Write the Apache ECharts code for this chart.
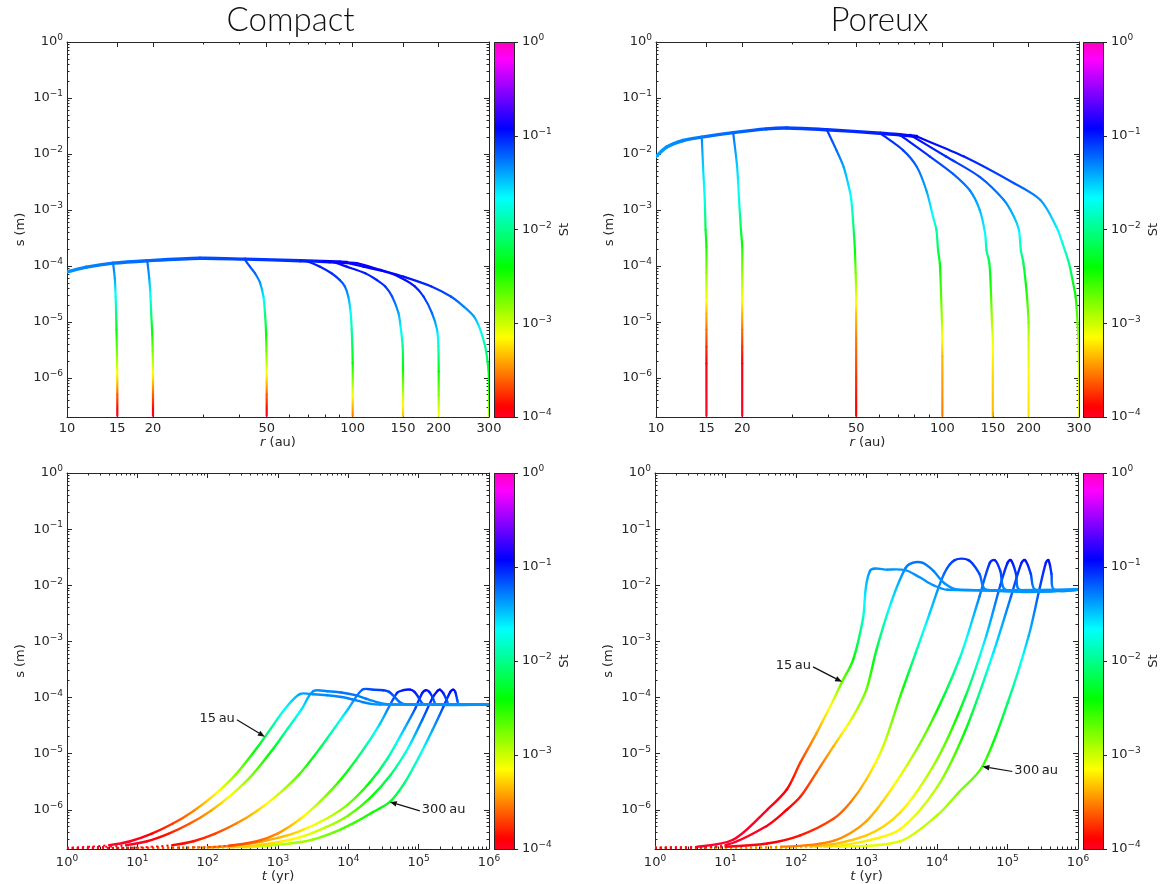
<!DOCTYPE html>
<html><head><meta charset="utf-8">
<script src="https://cdn.jsdelivr.net/npm/echarts@6/dist/echarts.min.js"></script>
<style>html,body{margin:0;padding:0;background:#fff}#c{width:1168px;height:884px}</style>
</head><body><div id="c"></div>
<script>
// ===================== DATA =====================
const R_TICKS = [10, 15, 20, 50, 100, 150, 200, 300];
const R_MINOR = [30, 40, 60, 70, 80, 90];
const S_DECADES = [-6, -5, -4, -3, -2, -1, 0];
const T_DECADES = [0, 1, 2, 3, 4, 5, 6];
const ST_DECADES = [-4, -3, -2, -1, 0];
const S_MIN = 2e-7, S_MAX = 1;

// Top-left (Compact): [r (au), s (m), St]
const compactEnvelope = [[10,7.8e-5,0.045],[11.7,9.5e-5,0.05],[14.5,1.12e-4,0.055],[19.1,1.24e-4,0.06],[29.2,1.37e-4,0.07],[42,1.32e-4,0.08],[65.5,1.24e-4,0.09],[83,1.19e-4,0.11],[95.6,1.15e-4,0.12]];
const cR15 = [[15,2.1e-7,1e-4],[15,5e-7,2.5e-4],[15,1e-6,6e-4],[14.95,3e-6,1.8e-3],[14.9,7.3e-6,4.5e-3],[14.85,1.5e-5,1e-2],[14.8,2.84e-5,0.02],[14.7,6e-5,0.04],[14.5,1.12e-4,0.055]];
const cR20 = [[20,2.1e-7,1e-4],[20,5e-7,2.5e-4],[20,1e-6,6e-4],[19.95,3e-6,1.8e-3],[19.85,7.3e-6,4.5e-3],[19.7,1.5e-5,1e-2],[19.6,2.84e-5,0.02],[19.4,6e-5,0.04],[19.1,1.24e-4,0.06]];
const cR50 = [[50,2.1e-7,1e-4],[50,5e-7,2.5e-4],[50,1e-6,6e-4],[49.9,3e-6,1.8e-3],[49.7,7.3e-6,5e-3],[49.3,1.44e-5,1e-2],[48.7,2.84e-5,0.025],[47.4,5e-5,0.045],[45.5,7.4e-5,0.06],[43.7,9.7e-5,0.07],[42,1.28e-4,0.08]];
const cR100 = [[100,2.1e-7,3e-4],[100,4.7e-7,7e-4],[100,1.85e-6,4e-3],[99.2,7.3e-6,1.2e-2],[98.4,1.44e-5,0.022],[96.5,2.84e-5,0.04],[93.9,4.3e-5,0.06],[90.1,5.6e-5,0.08],[84.3,7.4e-5,0.09],[76.9,9.7e-5,0.1],[69.9,1.19e-4,0.1],[65.5,1.24e-4,0.1]];
const cR150 = [[150,2.1e-7,5e-4],[150,4.7e-7,1e-3],[150,1.5e-6,4e-3],[149.6,3.7e-6,1e-2],[147.5,7.3e-6,0.022],[144.6,1.44e-5,0.04],[137.4,2.84e-5,0.07],[130,4.3e-5,0.085],[121.5,5.6e-5,0.095],[110.6,7.4e-5,0.1],[95.3,9.7e-5,0.11],[84.4,1.19e-4,0.12],[78.9,1.22e-4,0.12]];
const cR200 = [[200,2.1e-7,7e-4],[200,5e-7,1.6e-3],[200,1.3e-6,4e-3],[199.5,3.7e-6,1.5e-2],[197.3,7.3e-6,0.03],[189.4,1.44e-5,0.06],[177,2.84e-5,0.085],[165,4.3e-5,0.1],[152.6,5.6e-5,0.11],[135.6,7.4e-5,0.12],[108.8,9.7e-5,0.125],[90.3,1.19e-4,0.13],[85.5,1.2e-4,0.13]];
const cR300 = [[300,2.1e-7,1.2e-3],[300,9.3e-7,4e-3],[297,1.85e-6,6e-3],[290.6,3.7e-6,1.2e-2],[279.5,7.3e-6,0.022],[265.6,1.25e-5,0.04],[244.8,1.88e-5,0.05],[220.6,2.84e-5,0.07],[188.6,4.3e-5,0.09],[150.4,6.45e-5,0.11],[124.9,8.5e-5,0.12],[103.4,1.12e-4,0.13],[95.6,1.15e-4,0.13]];

// Top-right (Poreux): [r (au), s (m), St]
const porousEnvelope = [[10,9e-3,0.04],[10.9,1.33e-2,0.045],[12.45,1.74e-2,0.05],[14.45,2.0e-2,0.055],[18.6,2.4e-2,0.06],[24.3,2.8e-2,0.07],[28.6,2.9e-2,0.075],[39.5,2.7e-2,0.085],[60.6,2.35e-2,0.1],[71,2.2e-2,0.11],[81.4,2.05e-2,0.12]];
const pR15 = [[14.45,2.0e-2,0.05],[14.6,5.9e-3,0.03],[14.8,1.5e-3,0.018],[14.9,4.4e-4,6e-3],[15,2.2e-4,3.5e-3],[15,7.5e-5,1.5e-3],[15,2.8e-5,8e-4],[15,1.4e-5,4.5e-4],[15,7.3e-6,2.8e-4],[15,3.6e-6,1.8e-4],[15,1.8e-6,1.2e-4],[15,2.1e-7,1e-4]];
const pR20 = [[18.6,2.4e-2,0.06],[19.2,5.9e-3,0.03],[19.5,1.5e-3,0.018],[19.8,4.4e-4,6e-3],[20,2.2e-4,3.5e-3],[20,7.5e-5,1.5e-3],[20,2.8e-5,8e-4],[20,1.4e-5,4.5e-4],[20,7.3e-6,2.8e-4],[20,3.6e-6,1.8e-4],[20,1.8e-6,1.2e-4],[20,2.1e-7,1e-4]];
const pR50 = [[39.5,2.7e-2,0.085],[42.7,1.16e-2,0.06],[45.2,5.9e-3,0.04],[46.9,2.9e-3,0.028],[48.1,1.5e-3,0.02],[49.1,3.8e-4,7e-3],[49.5,1.9e-4,4e-3],[49.8,7.5e-5,1.8e-3],[50,3e-5,9e-4],[50,1.4e-5,5e-4],[50,5e-6,3e-4],[50,1e-6,1.8e-4],[50,2.1e-7,1.2e-4]];
const pR100 = [[60.6,2.35e-2,0.1],[73,1.16e-2,0.08],[81.4,5.9e-3,0.06],[88,2.2e-3,0.04],[92.8,7.5e-4,0.02],[95.3,4.4e-4,0.012],[96.6,1.9e-4,7e-3],[98,1.1e-4,4.5e-3],[99,2.8e-5,2.2e-3],[99.6,1.1e-5,1.3e-3],[99.8,7.3e-6,9e-4],[100,2.4e-6,4.5e-4],[100,2.1e-7,3e-4]];
const pR150 = [[71,2.2e-2,0.11],[90.5,9e-3,0.085],[109,4.4e-3,0.065],[125,2.2e-3,0.05],[135,1e-3,0.035],[141,3.8e-4,0.022],[142.6,1.9e-4,0.012],[146,1.1e-4,6e-3],[148,2.8e-5,2.5e-3],[149,9.6e-6,1.2e-3],[150,4.8e-6,8e-4],[150,1e-6,5.5e-4],[150,2.1e-7,4.5e-4]];
const pR200 = [[77,2.2e-2,0.12],[103,9e-3,0.09],[135,3.9e-3,0.07],[164,1.5e-3,0.05],[178,7.5e-4,0.035],[185,4.4e-4,0.025],[188,1.9e-4,0.012],[192,1.1e-4,7e-3],[197.5,2.8e-5,3e-3],[200,9.6e-6,1.6e-3],[200,4.8e-6,1e-3],[200,1e-6,7e-4],[200,2.1e-7,6e-4]];
const pR300 = [[81.4,2.05e-2,0.12],[119,9e-3,0.1],[178,3e-3,0.07],[220,1.5e-3,0.045],[250,5e-4,0.025],[263,2.5e-4,0.018],[277,1.1e-4,0.01],[286,5e-5,5e-3],[292,2.8e-5,3.5e-3],[296.5,9.6e-6,2e-3],[299,4e-6,1.2e-3],[300,1e-6,9e-4],[300,2.1e-7,8e-4]];

// Bottom-left (Compact): [t (yr), s (m), St]
const cT15 = [[1,2.09e-7,1e-4],[2,2.19e-7,1e-4],[4,2.34e-7,1e-4],[7.9,2.75e-7,1e-4],[15.8,3.72e-7,1.3e-4],[31.6,5.62e-7,2e-4],[63,9.55e-7,3.3e-4],[126,1.86e-6,6.5e-4],[251,4.27e-6,1.5e-3],[501,1.26e-5,4.4e-3],[794,2.82e-5,0.01],[1259,6.31e-5,0.022],[2042,1.15e-4,0.04],[3162,1.14e-4,0.045],[5012,1.1e-4,0.048],[7943,1.02e-4,0.05],[11220,9.3e-5,0.05],[15850,8.3e-5,0.05],[20900,7.7e-5,0.048],[28180,7.5e-5,0.045],[1e6,7.5e-5,0.045]];
const cT20 = [[1,2.09e-7,1e-4],[3.5,2.19e-7,1e-4],[6.9,2.34e-7,1e-4],[13.8,2.75e-7,1.1e-4],[27.5,3.72e-7,1.5e-4],[55,5.62e-7,2.4e-4],[110,9.55e-7,4e-4],[219,1.86e-6,7.8e-4],[437,4.27e-6,1.8e-3],[871,1.26e-5,5.3e-3],[1380,2.82e-5,0.012],[2190,6.31e-5,0.026],[3160,1.29e-4,0.045],[5010,1.29e-4,0.05],[7940,1.23e-4,0.055],[12590,1.1e-4,0.055],[17800,9.5e-5,0.05],[25100,8.3e-5,0.048],[35500,7.6e-5,0.045],[1e6,7.5e-5,0.045]];
const cT50 = [[1,2.09e-7,1.1e-4],[8,2.1e-7,1.1e-4],[15.8,2.19e-7,1.2e-4],[31.6,2.34e-7,1.3e-4],[63,2.75e-7,1.5e-4],[126,3.72e-7,2e-4],[251,5.62e-7,3.1e-4],[501,9.55e-7,5.3e-4],[1000,1.86e-6,1e-3],[2000,4.27e-6,2.3e-3],[3980,1.26e-5,7e-3],[6310,2.82e-5,0.015],[10000,6.31e-5,0.033],[15850,1.38e-4,0.065],[22400,1.38e-4,0.075],[31600,1.35e-4,0.08],[38000,1.26e-4,0.075],[44700,1.05e-4,0.065],[52500,8.5e-5,0.055],[63100,7.6e-5,0.048],[1e6,7.5e-5,0.045]];
const cT100 = [[1,2.09e-7,2e-4],[63,2.14e-7,2e-4],[200,2.29e-7,2.1e-4],[501,2.75e-7,2.5e-4],[1000,3.8e-7,3.4e-4],[2042,6.76e-7,6e-4],[3981,1.41e-6,1.3e-3],[7943,3.55e-6,3.2e-3],[15850,1.12e-5,0.01],[28180,3.39e-5,0.03],[48980,1.2e-4,0.09],[60260,1.35e-4,0.1],[75860,1.38e-4,0.11],[87100,1.26e-4,0.1],[100000,1e-4,0.08],[112200,7.9e-5,0.06],[125900,7.5e-5,0.048],[1e6,7.5e-5,0.045]];
const cT150 = [[1,2.09e-7,3e-4],[100,2.14e-7,3e-4],[398,2.51e-7,3.5e-4],[1000,3.16e-7,4.4e-4],[2042,4.17e-7,5.8e-4],[5012,7.08e-7,1e-3],[10000,1.26e-6,1.8e-3],[19950,3.02e-6,4.2e-3],[35480,7.94e-6,0.011],[63100,2.82e-5,0.035],[89100,6.31e-5,0.07],[112200,1.2e-4,0.1],[125900,1.35e-4,0.11],[141250,1.26e-4,0.1],[158500,1e-4,0.08],[177800,7.6e-5,0.05],[1e6,7.5e-5,0.045]];
const cT200 = [[1,2.09e-7,5e-4],[200,2.14e-7,5e-4],[631,2.4e-7,5.5e-4],[2042,3.24e-7,7.5e-4],[5012,5.01e-7,1.15e-3],[10000,7.94e-7,1.8e-3],[19950,1.58e-6,3.5e-3],[39810,4.17e-6,8e-3],[70800,1.26e-5,0.022],[112200,3.98e-5,0.06],[158500,1e-4,0.1],[186200,1.32e-4,0.115],[199500,1.38e-4,0.12],[223900,1.2e-4,0.1],[251200,8.9e-5,0.07],[269200,7.6e-5,0.05],[1e6,7.5e-5,0.045]];
const cT300 = [[1,2.09e-7,1e-3],[316,2.14e-7,1e-3],[1480,2.51e-7,1.2e-3],[3162,2.95e-7,1.5e-3],[6310,3.98e-7,2e-3],[12590,6.03e-7,2.8e-3],[22400,9.12e-7,3.8e-3],[38900,1.38e-6,5e-3],[63100,3.02e-6,9e-3],[100000,8.51e-6,0.018],[158500,2.69e-5,0.04],[223900,6.76e-5,0.075],[281800,1.26e-4,0.11],[309000,1.38e-4,0.12],[331100,1.26e-4,0.1],[354800,8.9e-5,0.07],[371500,7.6e-5,0.05],[1e6,7.5e-5,0.045]];

// Bottom-right (Poreux): [t (yr), s (m), St]
const pT15 = [[1,2.1e-7,1e-4],[4,2.2e-7,1e-4],[13,2.95e-7,1e-4],[39,1e-6,1.1e-4],[74,2.3e-6,1.3e-4],[115,6.9e-6,2e-4],[195,2.3e-5,4e-4],[340,9.1e-5,9e-4],[450,1.9e-4,2e-3],[650,4.8e-4,4e-3],[890,2.5e-3,0.015],[1120,1.8e-2,0.045],[2000,1.9e-2,0.045],[3550,1.86e-2,0.045],[5600,1.4e-2,0.045],[8900,1e-2,0.045],[14000,8.3e-3,0.045],[1e6,8.3e-3,0.045]];
const pT20 = [[1,2.1e-7,1e-4],[10,2.35e-7,1e-4],[38,5.1e-7,1.1e-4],[74,1e-6,1.3e-4],[115,1.7e-6,1.6e-4],[195,4.6e-6,2.5e-4],[340,1.35e-5,4.5e-4],[650,4.7e-5,1e-3],[1000,1.4e-4,2e-3],[1380,7e-4,6e-3],[2240,5e-3,0.025],[3550,2e-2,0.05],[4470,2.5e-2,0.055],[6300,2.5e-2,0.055],[8900,1.8e-2,0.05],[12600,1.1e-2,0.045],[20000,8.3e-3,0.045],[1e6,8.3e-3,0.045]];
const pT50 = [[1,2.1e-7,1.1e-4],[10,2.2e-7,1.1e-4],[39,2.5e-7,1.2e-4],[115,3.5e-7,1.5e-4],[340,6.9e-7,2.2e-4],[590,1.35e-6,3e-4],[1000,3.5e-6,5e-4],[1740,1.4e-5,1e-3],[3020,1.07e-4,3e-3],[5000,6.3e-4,0.012],[7900,3.2e-3,0.03],[12600,1.6e-2,0.06],[17800,2.8e-2,0.08],[28000,2.8e-2,0.09],[40000,1.6e-2,0.07],[50000,8.3e-3,0.045],[1e6,8.3e-3,0.045]];
const pT100 = [[1,2.1e-7,3e-4],[63,2.2e-7,3e-4],[340,2.8e-7,3.2e-4],[1000,6.3e-7,4e-4],[3000,4e-6,8e-4],[7900,3.2e-5,2.5e-3],[21000,5e-4,0.015],[40000,6.3e-3,0.05],[56000,2.5e-2,0.09],[66000,2.8e-2,0.1],[79000,1.8e-2,0.08],[95000,8.3e-3,0.045],[1e6,8.3e-3,0.045]];
const pT150 = [[1,2.1e-7,4.5e-4],[160,2.2e-7,4.5e-4],[1000,3.5e-7,5e-4],[3000,8.9e-7,6e-4],[10000,7.9e-6,1.5e-3],[25000,1e-4,6e-3],[50000,1.26e-3,0.03],[79000,1e-2,0.07],[100000,2.5e-2,0.1],[112000,2.8e-2,0.11],[132000,1.6e-2,0.08],[150000,8.3e-3,0.045],[1e6,8.3e-3,0.045]];
const pT200 = [[1,2.1e-7,6e-4],[250,2.2e-7,6e-4],[1000,2.8e-7,6.5e-4],[3000,4.5e-7,7e-4],[10000,2.5e-6,1.2e-3],[25000,2.5e-5,4e-3],[63000,6.3e-4,0.025],[112000,6.3e-3,0.06],[158000,2.5e-2,0.1],[178000,2.8e-2,0.11],[214000,1.6e-2,0.08],[250000,8.3e-3,0.045],[1e6,8.3e-3,0.045]];
const pT300 = [[1,2.1e-7,8e-4],[400,2.2e-7,8e-4],[3000,2.75e-7,9e-4],[10000,7.9e-7,1.2e-3],[20000,2e-6,1.6e-3],[44000,5.9e-6,2.5e-3],[100000,7.9e-5,8e-3],[200000,1.26e-3,0.035],[280000,7.9e-3,0.07],[350000,2.5e-2,0.1],[380000,2.8e-2,0.11],[420000,1.6e-2,0.08],[460000,8.3e-3,0.045],[1e6,8.3e-3,0.045]];

const ANNOTATIONS = [
  {panel: 2, text: '15\u2009au', tip: [650, 2e-5], dx: -28, dy: -17, side: 'left'},
  {panel: 2, text: '300\u2009au', tip: [38900, 1.38e-6], dx: 30, dy: 9, side: 'right'},
  {panel: 3, text: '15\u2009au', tip: [450, 1.9e-4], dx: -29, dy: -15, side: 'left'},
  {panel: 3, text: '300\u2009au', tip: [44000, 5.9e-6], dx: 30, dy: 5, side: 'right'}
];

// ===================== STYLE / LAYOUT =====================
const FONT = 'DejaVu Sans';
const AX = '#262626';
const MAJ = 5, MIN = 2.5;
const PANELS = [
  {kind: 'r', title: 'Compact', grid: {left: 67, top: 42, width: 422, height: 375}, cb: {left: 494, top: 42, width: 20, height: 375}, xMin: 10, xMax: 300, env: compactEnvelope, curves: [cR15, cR20, cR50, cR100, cR150, cR200, cR300]},
  {kind: 'r', title: 'Poreux', grid: {left: 656, top: 42, width: 423, height: 375}, cb: {left: 1083, top: 42, width: 20, height: 375}, xMin: 10, xMax: 300, env: porousEnvelope, curves: [pR15, pR20, pR50, pR100, pR150, pR200, pR300]},
  {kind: 't', grid: {left: 67, top: 473, width: 422, height: 376}, cb: {left: 494, top: 473, width: 20, height: 376}, xMin: 1, xMax: 1e6, env: null, curves: [cT300, cT200, cT150, cT100, cT50, cT20, cT15]},
  {kind: 't', grid: {left: 655, top: 473, width: 423, height: 376}, cb: {left: 1083, top: 473, width: 20, height: 376}, xMin: 1, xMax: 1e6, env: null, curves: [pT300, pT200, pT150, pT100, pT50, pT20, pT15]}
];

// gist_rainbow colormap
const RAINBOW = [[0,[255,0,41]],[0.03,[255,0,0]],[0.215,[255,255,0]],[0.4,[0,255,0]],[0.586,[0,255,255]],[0.77,[0,0,255]],[0.954,[255,0,255]],[1,[255,0,191]]];
function rainbow(f) {
  f = Math.max(0, Math.min(1, f));
  for (let i = 1; i < RAINBOW.length; i++) {
    if (f <= RAINBOW[i][0]) {
      const f0 = RAINBOW[i-1][0], c0 = RAINBOW[i-1][1], f1 = RAINBOW[i][0], c1 = RAINBOW[i][1];
      const u = (f - f0) / (f1 - f0);
      return 'rgb(' + c0.map((v, k) => Math.round(v + (c1[k] - v) * u)).join(',') + ')';
    }
  }
  return 'rgb(255,0,191)';
}
const frac = st => Math.max(0, Math.min(1, (Math.log10(st) + 4) / 4));
const LOG = Math.log10;

// each item: previous point, start, end, next point, St(start), St(end)
function segments(curves) {
  const out = [];
  curves.forEach(c => {
    for (let i = 0; i < c.length - 1; i++) {
      const a = c[Math.max(i - 1, 0)], p = c[i], q = c[i + 1], b = c[Math.min(i + 2, c.length - 1)];
      out.push([a[0], a[1], p[0], p[1], q[0], q[1], b[0], b[1], p[2], q[2]]);
    }
  });
  return out;
}
function unit(v) { const l = Math.hypot(v[0], v[1]); return l < 1e-9 ? [0, 0] : [v[0] / l, v[1] / l]; }
function makeRender(lw, dotted) {
  return function (params, api) {
    const pa = api.coord([api.value(0), api.value(1)]);
    const p1 = api.coord([api.value(2), api.value(3)]);
    const p2 = api.coord([api.value(4), api.value(5)]);
    const pb = api.coord([api.value(6), api.value(7)]);
    const f1 = frac(api.value(8)), f2 = frac(api.value(9));
    const L = Math.hypot(p2[0] - p1[0], p2[1] - p1[1]);
    const d1 = unit([p2[0] - pa[0], p2[1] - pa[1]]), d2 = unit([pb[0] - p1[0], pb[1] - p1[1]]);
    const k = 0.3 * L;
    let stroke;
    if (L < 0.5 || Math.abs(f2 - f1) < 1e-4) stroke = rainbow((f1 + f2) / 2);
    else {
      const stops = [{offset: 0, color: rainbow(f1)}, {offset: 1, color: rainbow(f2)}];
      const lo = Math.min(f1, f2), hi = Math.max(f1, f2);
      RAINBOW.forEach(([f]) => { if (f > lo && f < hi) stops.push({offset: (f - f1) / (f2 - f1), color: rainbow(f)}); });
      stops.sort((a, b) => a.offset - b.offset);
      stroke = new echarts.graphic.LinearGradient(p1[0], p1[1], p2[0], p2[1], stops, true);
    }
    const isDot = dotted && api.value(3) < 2.4e-7 && api.value(5) < 2.4e-7;
    return {type: 'bezierCurve', silent: true,
      shape: {x1: p1[0], y1: p1[1], x2: p2[0], y2: p2[1], cpx1: p1[0] + d1[0] * k, cpy1: p1[1] + d1[1] * k, cpx2: p2[0] - d2[0] * k, cpy2: p2[1] - d2[1] * k},
      style: {stroke, fill: 'none', lineWidth: isDot ? 2 : lw, lineCap: isDot ? 'butt' : 'round', lineDash: isDot ? [2, 3] : null}};
  };
}
function minorLogs(n0, n1, lo, hi) {
  const out = [];
  for (let n = n0; n < n1; n++) for (let k = 2; k <= 9; k++) { const v = n + LOG(k); if (v > lo + 1e-6 && v < hi - 1e-6) out.push(v); }
  return out;
}
const pow10 = v => { const e = Math.round(v); return '10{e|' + (e < 0 ? '\u2212' + (-e) : e) + '}'; };
const LBL = {fontFamily: FONT, fontSize: 13, color: AX, rich: {e: {fontFamily: FONT, fontSize: 9, color: AX, padding: [0, 0, 8, 0]}}};
const NAME_STYLE = {fontFamily: FONT, fontSize: 13, color: AX, rich: {i: {fontFamily: FONT, fontSize: 13, fontStyle: 'italic', color: AX}}};

function ov(pos, g, min, max, vals, len, line, label, extra) {
  const a = {type: 'value', gridIndex: g, position: pos, min, max,
    axisLine: {show: line, onZero: false, lineStyle: {color: AX, width: 1}},
    axisTick: {show: true, inside: true, length: len, customValues: vals, lineStyle: {color: AX, width: 1}},
    axisLabel: label ? Object.assign({show: true, customValues: vals}, label) : {show: false},
    splitLine: {show: false}, splitArea: {show: false}};
  if (extra) Object.assign(a, extra);
  return a;
}

const grid = [], xAxis = [], yAxis = [], series = [], mainIdx = [];
const CB_STOPS = RAINBOW.map(([f, c]) => ({offset: f, color: 'rgb(' + c.join(',') + ')'}));

PANELS.forEach((P) => {
  const g = grid.length; grid.push(Object.assign({outerBoundsMode: 'none', containLabel: false}, P.grid));
  const xl0 = LOG(P.xMin), xl1 = LOG(P.xMax), yl0 = LOG(S_MIN), yl1 = LOG(S_MAX);
  const xi = xAxis.length; xAxis.push({type: 'log', logBase: 10, gridIndex: g, min: P.xMin, max: P.xMax, show: false});
  const yi = yAxis.length; yAxis.push({type: 'log', logBase: 10, gridIndex: g, min: S_MIN, max: S_MAX, show: false});
  mainIdx.push([xi, yi]);
  const isR = P.kind === 'r';
  const xMaj = isR ? R_TICKS.map(LOG) : T_DECADES;
  const xMinor = isR ? R_MINOR.map(LOG) : minorLogs(0, 6, xl0, xl1);
  const xFmt = isR ? (v => String(Math.round(Math.pow(10, v)))) : pow10;
  xAxis.push(ov('bottom', g, xl0, xl1, xMaj, MAJ, true, Object.assign({formatter: xFmt, margin: 5}, LBL),
    {name: isR ? '{i|r} (au)' : '{i|t} (yr)', nameLocation: 'middle', nameGap: isR ? 18 : 19, nameTextStyle: NAME_STYLE}));
  xAxis.push(ov('bottom', g, xl0, xl1, xMinor, MIN, false));
  xAxis.push(ov('top', g, xl0, xl1, xMaj, MAJ, true));
  xAxis.push(ov('top', g, xl0, xl1, xMinor, MIN, false));
  const yMinor = minorLogs(-7, 0, yl0, yl1);
  yAxis.push(ov('left', g, yl0, yl1, S_DECADES, MAJ, true, Object.assign({formatter: pow10, margin: 4}, LBL),
    {name: 's (m)', nameLocation: 'middle', nameRotate: 90, nameGap: 40, nameTextStyle: NAME_STYLE}));
  yAxis.push(ov('left', g, yl0, yl1, yMinor, MIN, false));
  yAxis.push(ov('right', g, yl0, yl1, S_DECADES, MAJ, true));
  yAxis.push(ov('right', g, yl0, yl1, yMinor, MIN, false));

  if (P.env) series.push({type: 'custom', xAxisIndex: xi, yAxisIndex: yi, clip: true, encode: {x: [2, 4], y: [3, 5]},
    data: segments([P.env]), renderItem: makeRender(3.4, false), z: 3});
  series.push({type: 'custom', xAxisIndex: xi, yAxisIndex: yi, clip: true, encode: {x: [2, 4], y: [3, 5]},
    data: segments(P.curves), renderItem: makeRender(isR ? 2.2 : 2.4, !isR), z: 4});

  // colorbar
  const cg = grid.length; grid.push(Object.assign({outerBoundsMode: 'none', containLabel: false}, P.cb));
  const cxi = xAxis.length; xAxis.push({type: 'value', gridIndex: cg, min: 0, max: 1, show: false});
  const cyi = yAxis.length; yAxis.push({type: 'value', gridIndex: cg, position: 'right', min: -4, max: 0, interval: 1,
    axisLine: {show: false, onZero: false}, axisTick: {show: true, inside: false, length: 4, customValues: ST_DECADES, lineStyle: {color: AX}},
    axisLabel: Object.assign({show: true, customValues: ST_DECADES, formatter: pow10, margin: 8}, LBL),
    splitLine: {show: false}, name: 'St', nameLocation: 'middle', nameRotate: 90, nameGap: 44, nameTextStyle: NAME_STYLE});
  series.push({type: 'custom', xAxisIndex: cxi, yAxisIndex: cyi, data: [[0.5, -2]], silent: true,
    renderItem: (params, api) => {
      const cs = params.coordSys;
      return {type: 'rect', shape: {x: cs.x + 0.5, y: cs.y + 0.5, width: cs.width, height: cs.height},
        style: {fill: new echarts.graphic.LinearGradient(0, 1, 0, 0, CB_STOPS), stroke: AX, lineWidth: 1}};
    }});
});

const graphic = [];
PANELS.forEach(P => {
  if (P.title) graphic.push({type: 'text', x: P.grid.left + (P.cb.left + P.cb.width - P.grid.left) / 2, y: 4,
    style: {text: P.title, fontFamily: 'Lato', fontWeight: 300, fontSize: 33, fill: '#111', align: 'center', verticalAlign: 'top'}});
});

const chart = echarts.init(document.getElementById('c'), null, {width: 1168, height: 884});
chart.setOption({animation: false, backgroundColor: '#fff', textStyle: {fontFamily: FONT}, grid, xAxis, yAxis, series, graphic});

ANNOTATIONS.forEach(a => {
  const [xi, yi] = mainIdx[a.panel];
  const tip = chart.convertToPixel({xAxisIndex: xi, yAxisIndex: yi}, a.tip);
  const tail = [tip[0] + a.dx, tip[1] + a.dy];
  const ang = Math.atan2(tip[1] - tail[1], tip[0] - tail[0]);
  const hl = 7, hw = 2.8;
  const base = [tip[0] - hl * Math.cos(ang), tip[1] - hl * Math.sin(ang)];
  graphic.push({type: 'line', shape: {x1: tail[0], y1: tail[1], x2: base[0], y2: base[1]}, style: {stroke: '#111', lineWidth: 1.2}, z: 10});
  graphic.push({type: 'polygon', shape: {points: [tip, [base[0] + hw * Math.sin(ang), base[1] - hw * Math.cos(ang)], [base[0] - hw * Math.sin(ang), base[1] + hw * Math.cos(ang)]]}, style: {fill: '#111'}, z: 10});
  graphic.push({type: 'text', x: a.side === 'left' ? tail[0] - 2 : tail[0] + 2, y: tail[1] - 1, z: 10,
    style: {text: a.text, fontFamily: FONT, fontSize: 13, fill: '#222', align: a.side === 'left' ? 'right' : 'left', verticalAlign: 'middle'}});
});
chart.setOption({graphic});
</script></body></html>
